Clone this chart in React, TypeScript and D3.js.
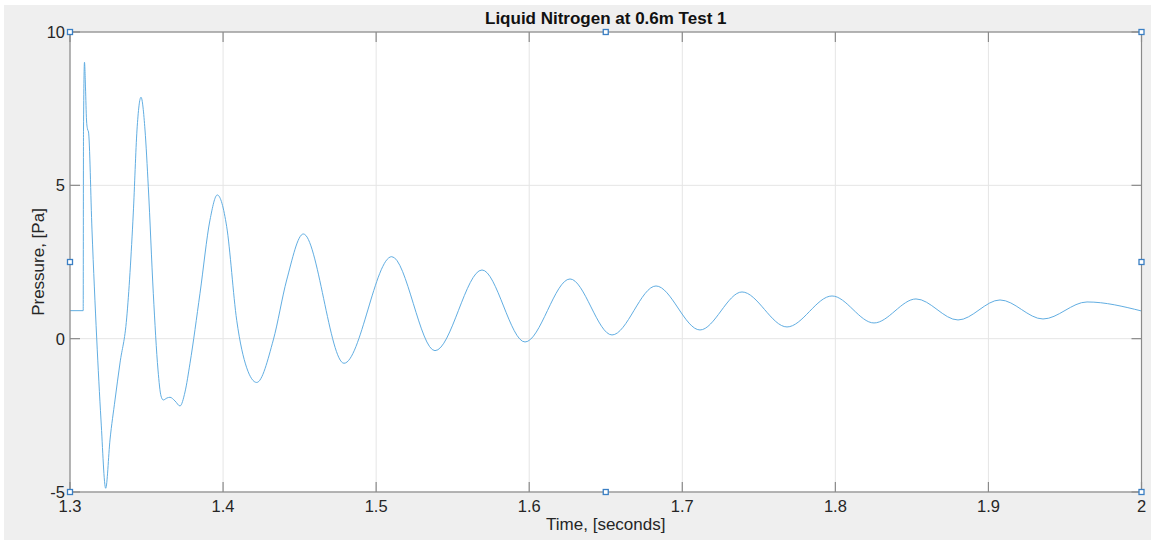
import React from "react";
import * as d3 from "d3";

const times = [
  1.3, 1.30862, 1.30882, 1.30947, 1.31013, 1.31078, 1.31143, 1.31209, 1.31437, 1.31744,
  1.32025, 1.32332, 1.32613, 1.3294, 1.33267, 1.33704, 1.34135, 1.34377, 1.34638, 1.349,
  1.35115, 1.35442, 1.35749, 1.35945, 1.36095, 1.36337, 1.36533, 1.3686, 1.37186, 1.37513,
  1.3784, 1.38493, 1.39146, 1.39623, 1.40237, 1.40891, 1.41544, 1.42197, 1.43282,
  1.44157, 1.45242, 1.479, 1.51016, 1.53845, 1.56916, 1.59725, 1.62665, 1.65409, 1.68283,
  1.71158, 1.73902, 1.76841, 1.79781, 1.82525, 1.85269, 1.88013, 1.90756, 1.93565, 1.9644,
  2.0,
];
const pressures = [
  0.913, 0.913, 6.805, 9.013, 8.175, 7.131, 6.838, 6.74, 3.545, 0.02,
  -2.651, -4.878, -3.303, -1.999, -0.792, 0.675, 4.099, 6.805, 7.872, 6.805,
  4.956, 1.48, -1.021, -1.868, -1.999, -1.934, -1.911, -2.031, -2.195, -1.738,
  -0.802, 1.48, 3.871, 4.686, 3.652, 0.6, -0.95, -1.428, -0.042,
  1.914, 3.414, -0.802, 2.674, -0.391, 2.24, -0.108, 1.947, 0.121, 1.718,
  0.284, 1.523, 0.382, 1.392, 0.512, 1.295, 0.61, 1.262, 0.642, 1.197,
  0.903,
];
const xTicks = [1.3, 1.4, 1.5, 1.6, 1.7, 1.8, 1.9, 2];
const yTicks = [-5, 0, 5, 10];
const title = "Liquid Nitrogen at 0.6m Test 1";
const xLabel = "Time, [seconds]";
const yLabel = "Pressure, [Pa]";

const W = 1151;
const H = 541;
const L = 70, R = 1141.5, T = 32, B = 492;

export default function App() {
  const x = d3.scaleLinear().domain([1.3, 2]).range([L, R]);
  const y = d3.scaleLinear().domain([-5, 10]).range([B, T]);
  const data = times.map((t, i) => [t, pressures[i]] as [number, number]);
  const line = d3
    .line<[number, number]>()
    .x((d) => x(d[0]))
    .y((d) => y(d[1]))
    .curve(d3.curveMonotoneX);
  const font = "'Liberation Sans', Arial, Helvetica, sans-serif";
  const axisColor = "#8a8a8a";
  const tickLen = 10;
  const midX = (L + R) / 2;
  const midY = (T + B) / 2;
  const handles: [number, number][] = [
    [L, T], [midX, T], [R, T], [L, midY], [R, midY], [L, B], [midX, B], [R, B],
  ];
  return (
    <svg
      width={W}
      height={H}
      style={{ position: "absolute", left: 0, top: 0, display: "block" }}
      fontFamily={font}
    >
      <rect x={0} y={0} width={W} height={H} fill="#ffffff" />
      <rect x={4} y={5} width={W - 4} height={H - 6} fill="#efefef" />
      <rect x={L} y={T} width={R - L} height={B - T} fill="#ffffff" />
      {xTicks.map((t) => (
        <line key={"gx" + t} x1={x(t)} x2={x(t)} y1={T} y2={B} stroke="#e5e5e5" strokeWidth={1} />
      ))}
      {yTicks.map((t) => (
        <line key={"gy" + t} x1={L} x2={R} y1={y(t)} y2={y(t)} stroke="#e5e5e5" strokeWidth={1} />
      ))}
      <path d={line(data) || ""} fill="none" stroke="#58a9df" strokeWidth={0.95} />
      <rect x={L} y={T} width={R - L} height={B - T} fill="none" stroke={axisColor} strokeWidth={1.2} />
      {xTicks.map((t) => (
        <g key={"tx" + t}>
          <line x1={x(t)} x2={x(t)} y1={B} y2={B - tickLen} stroke={axisColor} strokeWidth={1.2} />
          <line x1={x(t)} x2={x(t)} y1={T} y2={T + tickLen} stroke={axisColor} strokeWidth={1.2} />
          <text x={x(t)} y={B + 20} textAnchor="middle" fontSize={16.5} fill="#262626">
            {String(t)}
          </text>
        </g>
      ))}
      {yTicks.map((t) => (
        <g key={"ty" + t}>
          <line x1={L} x2={L + tickLen} y1={y(t)} y2={y(t)} stroke={axisColor} strokeWidth={1.2} />
          <line x1={R} x2={R - tickLen} y1={y(t)} y2={y(t)} stroke={axisColor} strokeWidth={1.2} />
          <text x={L - 5} y={y(t) + 6} textAnchor="end" fontSize={16.5} fill="#262626">
            {String(t)}
          </text>
        </g>
      ))}
      {handles.map(([hx, hy], i) => (
        <rect key={"h" + i} x={hx - 2.5} y={hy - 2.5} width={5} height={5} fill="#ffffff" stroke="#3a7fc4" strokeWidth={1.3} />
      ))}
      <text x={midX} y={23.5} textAnchor="middle" fontSize={17} fontWeight="bold" fill="#111">
        {title}
      </text>
      <text x={midX} y={530} textAnchor="middle" fontSize={17} fill="#262626">
        {xLabel}
      </text>
      <text
        transform={`translate(44, ${midY}) rotate(-90)`}
        textAnchor="middle"
        fontSize={17}
        fill="#262626"
      >
        {yLabel}
      </text>
    </svg>
  );
}
